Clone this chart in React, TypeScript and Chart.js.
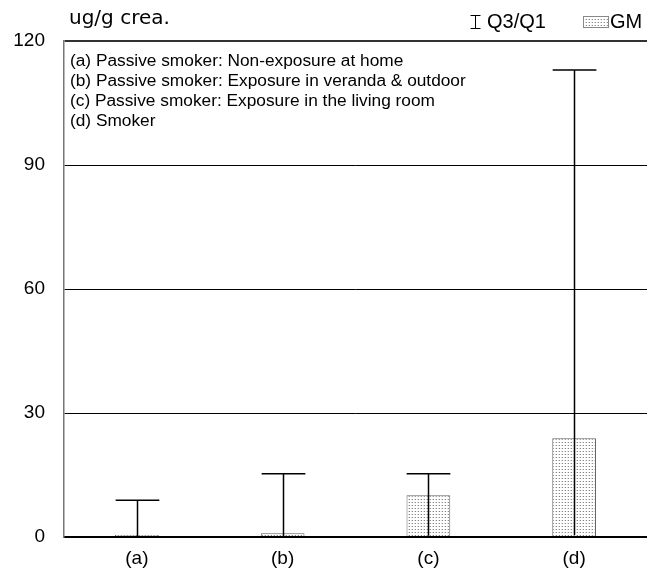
import React, { useEffect, useRef } from "react";
import { Chart, registerables } from "chart.js";

Chart.register(...registerables);

const categories = ["(a)", "(b)", "(c)", "(d)"];
const gmValues = [0.5, 0.9, 10.1, 23.9];
const q1Values = [0.1, 0.2, 0.3, 0.5];
const q3Values = [8.9, 15.3, 15.3, 113];
const yTicks = [0, 30, 60, 90, 120];
const groupNotes = [
  "(a) Passive smoker: Non-exposure at home",
  "(b) Passive smoker: Exposure in veranda & outdoor",
  "(c) Passive smoker: Exposure in the living room",
  "(d) Smoker",
];
const unitLabel = "ug/g crea.";
const legendQ = "Q3/Q1";
const legendGM = "GM";

const FONT = "'Liberation Sans', Arial, sans-serif";

function makePattern(): CanvasPattern | string {
  const c = document.createElement("canvas");
  c.width = 3;
  c.height = 3;
  const ctx = c.getContext("2d");
  if (!ctx) return "#eee";
  ctx.fillStyle = "#ffffff";
  ctx.fillRect(0, 0, 3, 3);
  ctx.fillStyle = "#8a8a8a";
  ctx.fillRect(1, 1, 1, 1);
  ctx.fillStyle = "#d8d8d8";
  ctx.fillRect(0, 1, 1, 1);
  const p = ctx.createPattern(c, "repeat");
  return p || "#eee";
}

export default function App() {
  const ref = useRef<HTMLCanvasElement | null>(null);

  useEffect(() => {
    if (!ref.current) return;
    const pattern = makePattern();

    const extras = {
      id: "extras",
      afterDatasetsDraw(chart: any) {
        const ctx = chart.ctx;
        const xs = chart.scales.x;
        const ys = chart.scales.y;
        const meta = chart.getDatasetMeta(0);
        ctx.save();
        ctx.strokeStyle = "#000";
        ctx.lineWidth = 1.5;
        categories.forEach((_, i) => {
          const x = Math.round(xs.getPixelForValue(i)) + 0.5;
          const w = meta.data[i].width;
          const yTop = ys.getPixelForValue(q3Values[i]);
          const yBot = ys.getPixelForValue(q1Values[i]);
          ctx.beginPath();
          ctx.moveTo(x, yBot);
          ctx.lineTo(x, yTop);
          ctx.moveTo(x - w / 2, yTop);
          ctx.lineTo(x + w / 2, yTop);
          ctx.stroke();
        });
        ctx.restore();
      },
      afterDraw(chart: any) {
        const ctx = chart.ctx;
        const area = chart.chartArea;
        ctx.save();
        // notes
        ctx.fillStyle = "#000";
        ctx.font = `17.3px ${FONT}`;
        ctx.textBaseline = "middle";
        ctx.textAlign = "left";
        groupNotes.forEach((t, i) => {
          ctx.fillText(t, area.left + 6, area.top + 20 + i * 20);
        });
        // unit label
        ctx.font = `20px 'DejaVu Sans', sans-serif`;
        ctx.fillText(unitLabel, 69, 19);
        // legend: I-beam
        ctx.strokeStyle = "#000";
        ctx.lineWidth = 1;
        const ix = 475.5;
        ctx.beginPath();
        ctx.moveTo(ix - 5, 15.5);
        ctx.lineTo(ix + 5, 15.5);
        ctx.moveTo(ix, 15.5);
        ctx.lineTo(ix, 28.5);
        ctx.moveTo(ix - 5, 28.5);
        ctx.lineTo(ix + 5, 28.5);
        ctx.stroke();
        ctx.font = `20px ${FONT}`;
        ctx.fillText(legendQ, 487, 22);
        // legend: GM box
        ctx.fillStyle = pattern as any;
        ctx.fillRect(583, 16, 25, 11);
        ctx.strokeStyle = "#888";
        ctx.strokeRect(583.5, 16.5, 25, 11);
        ctx.fillStyle = "#000";
        ctx.fillText(legendGM, 610, 22);
        ctx.restore();
      },
    };

    const chart = new Chart(ref.current, {
      type: "bar",
      data: {
        labels: categories,
        datasets: [
          {
            label: legendGM,
            data: gmValues,
            backgroundColor: pattern as any,
            borderColor: "#666",
            borderWidth: 1,
            barPercentage: 0.3,
            categoryPercentage: 1,
          },
        ],
      },
      options: {
        animation: false,
        responsive: false,
        layout: { padding: { top: 41, right: 0, left: 0, bottom: 0 } },
        plugins: {
          legend: { display: false },
          tooltip: { enabled: false },
        },
        scales: {
          x: {
            grid: { display: false, drawTicks: false },
            border: { display: true, color: "#000", width: 2 },
            ticks: {
              color: "#000",
              font: { family: FONT, size: 19 },
              padding: 10,
            },
            afterFit: (s: any) => {
              s.height = 32;
            },
          },
          y: {
            min: 0,
            max: 120,
            afterBuildTicks: (s: any) => {
              s.ticks = yTicks.map((v) => ({ value: v }));
            },
            grid: {
              drawTicks: false,
              color: (c: any) => (c.tick && c.tick.value === 120 ? "#333" : "#000"),
              lineWidth: (c: any) =>
                c.tick && (c.tick.value === 120 || c.tick.value === 0) ? 2 : 1,
            },
            border: { display: true, color: "#777", width: 1.5 },
            ticks: {
              color: "#000",
              font: { family: FONT, size: 19 },
              padding: 19,
            },
            afterFit: (s: any) => {
              s.width = 64;
            },
          },
        },
      },
      plugins: [extras],
    });

    return () => chart.destroy();
  }, []);

  return (
    <div style={{ position: "absolute", left: 0, top: 0, width: 647, height: 569, background: "#fff" }}>
      <canvas ref={ref} width={647} height={569} style={{ width: 647, height: 569 }} />
    </div>
  );
}
